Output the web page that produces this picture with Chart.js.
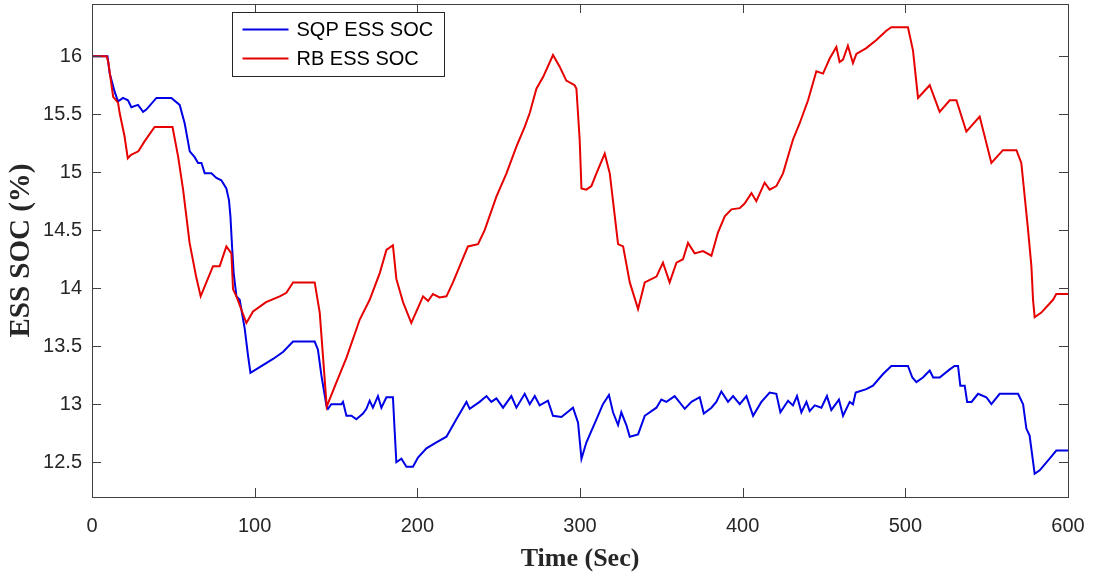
<!DOCTYPE html>
<html>
<head>
<meta charset="utf-8">
<title>ESS SOC</title>
<script src="https://cdn.jsdelivr.net/npm/chart.js@4/dist/chart.umd.min.js"></script>
<style>
  html, body { margin: 0; padding: 0; background: #fff; }
  #wrap { width: 1095px; height: 575px; position: relative; }
</style>
</head>
<body>
<div id="wrap"><canvas id="socChart"></canvas></div>
<script>
// Time axis (s) and state of charge (%) for each strategy
const rbTime = [
  0, 9, 10, 13, 16, 17, 20, 22, 24, 28.5,
  32.5, 38.5, 49.5, 53, 56, 60, 64, 66.8, 70.3, 74.4,
  78.5, 82.6, 85.7, 86.7, 88.8, 94.9, 99, 107, 115.4, 119.5,
  123.6, 136.9, 140, 144.3, 150, 156.4, 164.6, 170.7, 176.9, 181,
  185, 187.1, 191.2, 196.3, 203.5, 206.6, 209.6, 213.7, 217.9, 221.9,
  231.1, 237.3, 241.4, 248.6, 254.8, 260.9, 266, 269.1, 273.2, 277.3,
  283.4, 287.5, 291.6, 296.7, 297.8, 299.8, 300.9, 303.9, 307, 310.1,
  315.2, 318.3, 323.4, 326.5, 330.6, 335.7, 339.8, 347, 351, 355.1,
  359.3, 363.3, 366.4, 370.5, 375.6, 380.8, 384.8, 389, 393.1, 398.2,
  401.2, 405.4, 408.4, 413.5, 416.6, 420.7, 424.8, 430.9, 435, 440.2,
  445.3, 449.4, 453.5, 457.6, 459.6, 461.7, 464.7, 467.8, 469.9, 476,
  482.2, 488.3, 491.4, 501.6, 504.7, 507.8, 515, 521.1, 527.3, 531.4,
  537.5, 545.7, 552.9, 560, 568.3, 571.3, 575.4, 577.5, 578.5, 579.5,
  583.6, 590.8, 592.8, 600
];
const rbSoc = [
  16, 16, 15.95, 15.65, 15.6, 15.51, 15.31, 15.12, 15.15, 15.18,
  15.27, 15.39, 15.39, 15.13, 14.85, 14.39, 14.1, 13.93, 14.05, 14.19,
  14.19, 14.36, 14.3, 13.99, 13.93, 13.70, 13.80, 13.88, 13.93, 13.96,
  14.05, 14.05, 13.79, 12.98, 13.18, 13.40, 13.73, 13.9, 14.13, 14.33,
  14.37, 14.08, 13.88, 13.70, 13.93, 13.89, 13.95, 13.92, 13.93, 14.05,
  14.36, 14.38, 14.5, 14.79, 14.99, 15.22, 15.39, 15.51, 15.72, 15.82,
  16.01, 15.91, 15.79, 15.75, 15.72, 15.28, 14.86, 14.85, 14.88, 14.99,
  15.16, 14.99, 14.38, 14.36, 14.05, 13.82, 14.05, 14.1, 14.22, 14.05,
  14.22, 14.25, 14.39, 14.30, 14.32, 14.28, 14.48, 14.62, 14.68, 14.69,
  14.73, 14.82, 14.75, 14.91, 14.85, 14.88, 14.99, 15.28, 15.42, 15.62,
  15.87, 15.85, 15.98, 16.08, 15.95, 15.97, 16.09, 15.94, 16.02, 16.07,
  16.14, 16.22, 16.25, 16.25, 16.05, 15.64, 15.75, 15.52, 15.62, 15.62,
  15.35, 15.48, 15.08, 15.19, 15.19, 15.08, 14.51, 14.19, 13.9, 13.75,
  13.79, 13.90, 13.95, 13.95
];
const sqpTime = [
  0, 9.5, 10.9, 14, 16, 19.1, 22.1, 24.2, 28.3, 31.4,
  33.4, 39.6, 48.8, 53.9, 57, 60.1, 63.1, 65.2, 67.3, 69.3,
  73.4, 76.5, 79.5, 82.6, 84.2, 85.1, 86.1, 87.1, 88.8, 90.8,
  93.9, 95.9, 97.4, 103.1, 111.3, 117.4, 123.6, 136.9, 138.9, 141,
  144.1, 145.1, 147.1, 153.3, 154.3, 156.4, 159.5, 162.5, 166.6, 168.7,
  170.7, 172.7, 175.8, 177.9, 181, 185, 186.1, 187.1, 190.2, 193.3,
  197.3, 200.4, 205.6, 211.7, 217.9, 224, 230.2, 232.2, 238.3, 242.5,
  245.5, 248.6, 252.7, 257.8, 260.9, 266, 269.1, 272.2, 275.2, 280.3,
  283.4, 288.6, 295.7, 298.8, 300.9, 303.9, 310.1, 314.1, 317.8, 320.3,
  323.4, 325.4, 328.5, 330.6, 335.7, 339.8, 347, 350, 353.1, 358.2,
  364.4, 368.5, 373.6, 376.1, 380.8, 383.8, 386.9, 391, 394.1, 398.2,
  402.3, 406.4, 411.5, 416.6, 420.7, 423.2, 427.9, 430.9, 433.4, 436.1,
  439.2, 441.2, 444.3, 448.4, 451.8, 454.5, 459.2, 461.7, 465.8, 467.8,
  469.5, 476, 480.1, 486.3, 491.4, 501.6, 504.3, 506.8, 510.8, 515,
  517.1, 521.1, 527.3, 530.3, 532.4, 533.8, 536.5, 538, 540.7, 544.7,
  549.8, 552.9, 558, 569.3, 572.4, 574.4, 576.4, 579.5, 582.6, 588.7,
  592.8, 600
];
const sqpSoc = [
  16, 16, 15.85, 15.69, 15.61, 15.64, 15.62, 15.56, 15.58, 15.52,
  15.54, 15.64, 15.64, 15.58, 15.42, 15.18, 15.13, 15.08, 15.08, 14.99,
  14.99, 14.95, 14.93, 14.86, 14.76, 14.62, 14.36, 14.13, 13.93, 13.90,
  13.65, 13.42, 13.27, 13.32, 13.39, 13.45, 13.54, 13.54, 13.47, 13.25,
  12.99, 12.96, 13.0, 13.0, 13.02, 12.90, 12.90, 12.87, 12.92, 12.96,
  13.03, 12.97, 13.07, 12.97, 13.06, 13.06, 12.76, 12.50, 12.53, 12.46,
  12.46, 12.54, 12.62, 12.67, 12.72, 12.87, 13.02, 12.96, 13.02, 13.07,
  13.02, 13.05, 12.97, 13.07, 12.97, 13.09, 13.0, 13.07, 12.99, 13.03,
  12.90, 12.89, 12.97, 12.84, 12.53, 12.67, 12.87, 13.0, 13.08, 12.93,
  12.82, 12.93, 12.82, 12.72, 12.74, 12.90, 12.97, 13.04, 13.02, 13.07,
  12.96, 13.02, 13.06, 12.92, 12.97, 13.02, 13.11, 13.02, 13.07, 13.0,
  13.07, 12.90, 13.02, 13.10, 13.09, 12.93, 13.03, 12.99, 13.07, 12.93,
  13.02, 12.94, 12.99, 12.97, 13.07, 12.95, 13.04, 12.90, 13.02, 13.0,
  13.10, 13.13, 13.16, 13.26, 13.33, 13.33, 13.23, 13.19, 13.23, 13.29,
  13.23, 13.23, 13.30, 13.33, 13.33, 13.16, 13.16, 13.02, 13.02, 13.09,
  13.06, 13.0, 13.09, 13.09, 13.0, 12.79, 12.73, 12.40, 12.43, 12.53,
  12.60, 12.60
];

const seriesNames = ['SQP ESS SOC', 'RB ESS SOC'];
const seriesColors = ['#0000e6', '#e60000'];
const xTicks = [0, 100, 200, 300, 400, 500, 600];
const yTicks = [12.5, 13, 13.5, 14, 14.5, 15, 15.5, 16];

const toPoints = (t, v) => t.map((x, i) => ({ x: x, y: v[i] }));

const axisColor = '#404040';
const tickFont = { family: '"Liberation Sans", Arial, sans-serif', size: 20 };
const titleFont = { family: '"Liberation Serif", "Times New Roman", serif', size: 26, weight: 'bold' };

// closed axes box with inward tick marks on all four sides
const boxTicks = {
  id: 'boxTicks',
  afterDraw(chart) {
    const { ctx, chartArea: a, scales: { x, y } } = chart;
    const len = 9;
    ctx.save();
    ctx.strokeStyle = axisColor;
    ctx.lineWidth = 1;
    ctx.strokeRect(Math.round(a.left) + 0.5, Math.round(a.top) + 0.5,
      Math.round(a.right - a.left), Math.round(a.bottom - a.top));
    ctx.beginPath();
    x.ticks.forEach(t => {
      const px = Math.round(x.getPixelForValue(t.value)) + 0.5;
      ctx.moveTo(px, a.bottom); ctx.lineTo(px, a.bottom - len);
      ctx.moveTo(px, a.top); ctx.lineTo(px, a.top + len);
    });
    y.ticks.forEach(t => {
      const py = Math.round(y.getPixelForValue(t.value)) + 0.5;
      ctx.moveTo(a.left, py); ctx.lineTo(a.left + len, py);
      ctx.moveTo(a.right, py); ctx.lineTo(a.right - len, py);
    });
    ctx.stroke();
    ctx.restore();
  }
};

// legend box inside the upper-left part of the plot
const boxLegend = {
  id: 'boxLegend',
  afterDraw(chart) {
    const { ctx, chartArea: a } = chart;
    const bx = Math.round(a.left + 140) + 0.5;
    const by = Math.round(a.top + 8) + 0.5;
    const bw = 212, bh = 64;
    ctx.save();
    ctx.fillStyle = '#fff';
    ctx.fillRect(bx, by, bw, bh);
    ctx.strokeStyle = '#262626';
    ctx.lineWidth = 1;
    ctx.strokeRect(bx, by, bw, bh);
    ctx.font = '20px "Liberation Sans", Arial, sans-serif';
    ctx.textBaseline = 'middle';
    ctx.fillStyle = '#000';
    chart.data.datasets.slice().sort((p, q) => p.legendIndex - q.legendIndex).forEach((ds, i) => {
      const ly = by + 17 + i * 29;
      ctx.strokeStyle = ds.borderColor;
      ctx.lineWidth = 2;
      ctx.beginPath();
      ctx.moveTo(bx + 10, ly);
      ctx.lineTo(bx + 56, ly);
      ctx.stroke();
      ctx.fillText(ds.label, bx + 64, ly + 1);
    });
    ctx.restore();
  }
};

new Chart(document.getElementById('socChart'), {
  type: 'line',
  data: {
    datasets: [
      {
        label: seriesNames[1],
        data: toPoints(rbTime, rbSoc),
        borderColor: seriesColors[1],
        borderWidth: 2,
        pointRadius: 0,
        tension: 0,
        order: 0,
        legendIndex: 1
      },
      {
        label: seriesNames[0],
        data: toPoints(sqpTime, sqpSoc),
        borderColor: seriesColors[0],
        borderWidth: 2,
        pointRadius: 0,
        tension: 0,
        order: 1,
        legendIndex: 0
      }
    ]
  },
  options: {
    responsive: true,
    maintainAspectRatio: false,
    animation: false,
    layout: { padding: { top: 4, right: 27, left: 0, bottom: 0 } },
    plugins: {
      legend: { display: false },
      tooltip: { enabled: false }
    },
    scales: {
      x: {
        type: 'linear',
        min: 0,
        max: 600,
        grid: { display: false, drawTicks: false },
        border: { display: false },
        afterBuildTicks: scale => { scale.ticks = xTicks.map(v => ({ value: v })); },
        afterFit: scale => {
          scale.height = 78;
          scale.paddingLeft = 0;
          scale.paddingRight = 0;
        },
        ticks: { font: tickFont, color: '#262626', padding: 17, maxRotation: 0 },
        title: { display: true, text: 'Time (Sec)', font: titleFont, color: '#262626', padding: { top: 0, bottom: 0 } }
      },
      y: {
        type: 'linear',
        min: 12.2,
        max: 16.45,
        grid: { display: false, drawTicks: false },
        border: { display: false },
        afterBuildTicks: scale => { scale.ticks = yTicks.map(v => ({ value: v })); },
        afterFit: scale => {
          scale.width = 92;
          scale.paddingTop = 0;
          scale.paddingBottom = 0;
        },
        ticks: { font: tickFont, color: '#262626', padding: 10, callback: v => String(v) },
        title: { display: true, text: 'ESS SOC (%)', font: { ...titleFont, size: 29 }, color: '#262626', padding: { top: 4, bottom: 0 } }
      }
    }
  },
  plugins: [boxTicks, boxLegend]
});
</script>
</body>
</html>
